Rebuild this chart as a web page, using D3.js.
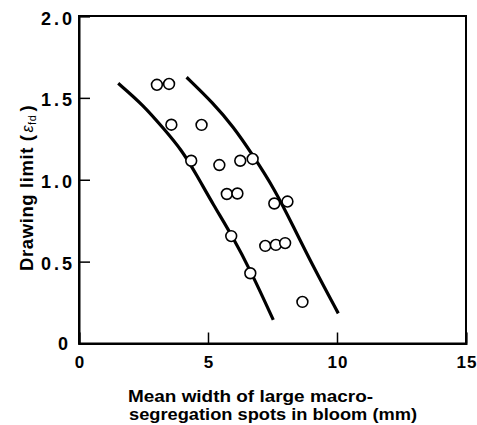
<!DOCTYPE html>
<html>
<head>
<meta charset="utf-8">
<script src="https://cdn.jsdelivr.net/npm/d3@7"></script>
<style>
  html, body { margin: 0; padding: 0; background: #fff; }
  svg { display: block; }
  text { font-family: "Liberation Sans", Arial, sans-serif; font-weight: bold; fill: #000; }
</style>
</head>
<body>
<svg id="chart" width="477" height="425"></svg>
<script>
// ---- data ----
const xTicks = [0, 5, 10, 15];
const xTickLabels = ["0", "5", "10", "15"];
const yTicks = [0, 0.5, 1.0, 1.5, 2.0];
const yTickLabels = ["0", "0.5", "1.0", "1.5", "2.0"];

const pointX = [3.02, 3.49, 3.58, 4.75, 4.35, 5.44, 6.25, 6.73, 5.73, 6.14, 7.57, 8.08, 5.90, 7.22, 7.63, 7.99, 6.64, 8.66];
const pointY = [1.58, 1.585, 1.336, 1.335, 1.116, 1.090, 1.116, 1.127, 0.913, 0.916, 0.855, 0.867, 0.656, 0.596, 0.602, 0.613, 0.429, 0.254];

const lowerCurveX = [1.52, 2.49, 3.27, 3.98, 4.56, 5.21, 5.92, 6.70, 7.53];
const lowerCurveY = [1.589, 1.456, 1.314, 1.182, 1.029, 0.846, 0.663, 0.429, 0.144];
const upperCurveX = [4.17, 5.21, 5.98, 6.69, 7.60, 8.31, 9.08, 10.05];
const upperCurveY = [1.626, 1.467, 1.324, 1.162, 0.938, 0.713, 0.469, 0.184];

const xTitleLines = ["Mean width of large macro-", "segregation spots in bloom (mm)"];

// ---- chart ----
const svg = d3.select("#chart");
const x = d3.scaleLinear().domain([0, 15]).range([79, 466]);
const y = d3.scaleLinear().domain([0, 2]).range([343.5, 16]);

// frame
svg.append("rect")
  .attr("x", x(0)).attr("y", y(2))
  .attr("width", x(15) - x(0)).attr("height", y(0) - y(2))
  .attr("fill", "none").attr("stroke", "#000").attr("stroke-width", 2);

// axes with inward ticks
const xAxis = d3.axisBottom(x).tickValues(xTicks).tickSize(-11).tickFormat("");
const gx = svg.append("g").attr("transform", `translate(0,${y(0)})`).call(xAxis);
const yAxis = d3.axisLeft(y).tickValues(yTicks).tickSize(-11).tickFormat("");
const gy = svg.append("g").attr("transform", `translate(${x(0)},0)`).call(yAxis);
[gx, gy].forEach(g => {
  g.select(".domain").attr("stroke", "#000").attr("stroke-width", 2);
  g.selectAll(".tick line").attr("stroke", "#000").attr("stroke-width", 1.5);
});

// tick labels
svg.append("g").selectAll("text").data(xTicks).join("text")
  .attr("x", d => x(d) + 1).attr("y", 368)
  .attr("text-anchor", "middle").attr("font-size", 17)
  .attr("letter-spacing", 1)
  .text((d, i) => xTickLabels[i]);

const yls = 3;
svg.append("g").selectAll("text").data(yTicks).join("text")
  .attr("x", d => d === 0 ? 68 : 72 + yls).attr("y", d => d === 0 ? y(d) + 6 : y(d) + 8.5)
  .attr("text-anchor", "end").attr("font-size", 18)
  .attr("letter-spacing", d => d === 0 ? 0 : yls)
  .text((d, i) => yTickLabels[i]);

// curves
const line = d3.line().x(d => x(d[0])).y(d => y(d[1])).curve(d3.curveBasis);
[[lowerCurveX, lowerCurveY], [upperCurveX, upperCurveY]].forEach(([cx, cy]) => {
  svg.append("path")
    .datum(cx.map((v, i) => [v, cy[i]]))
    .attr("d", line)
    .attr("fill", "none").attr("stroke", "#000").attr("stroke-width", 3.2)
    .attr("stroke-linecap", "butt");
});

// points
svg.append("g").selectAll("circle").data(pointX.map((v, i) => [v, pointY[i]])).join("circle")
  .attr("cx", d => x(d[0])).attr("cy", d => y(d[1])).attr("r", 5.4)
  .attr("fill", "#fff").attr("stroke", "#000").attr("stroke-width", 1.6);

// x title
svg.append("text").attr("x", 128).attr("y", 402).attr("font-size", 16.5)
  .attr("textLength", 245).attr("lengthAdjust", "spacingAndGlyphs").text(xTitleLines[0]);
svg.append("text").attr("x", 129).attr("y", 420).attr("font-size", 16.5)
  .attr("textLength", 288).attr("lengthAdjust", "spacingAndGlyphs").text(xTitleLines[1]);

// y title
const yt = svg.append("text")
  .attr("transform", "translate(33,271) rotate(-90)")
  .attr("font-size", 18.5).attr("letter-spacing", 0.6);
yt.append("tspan").text("Drawing limit (");
yt.append("tspan").attr("font-style", "italic").attr("font-weight", "normal").attr("font-size", 16).attr("dx", 2).text("\u03b5");
yt.append("tspan").attr("font-weight", "normal").attr("font-size", 11).attr("dy", 3).text("fd");
yt.append("tspan").attr("dy", -3).attr("dx", 3).text(")");
</script>
</body>
</html>
